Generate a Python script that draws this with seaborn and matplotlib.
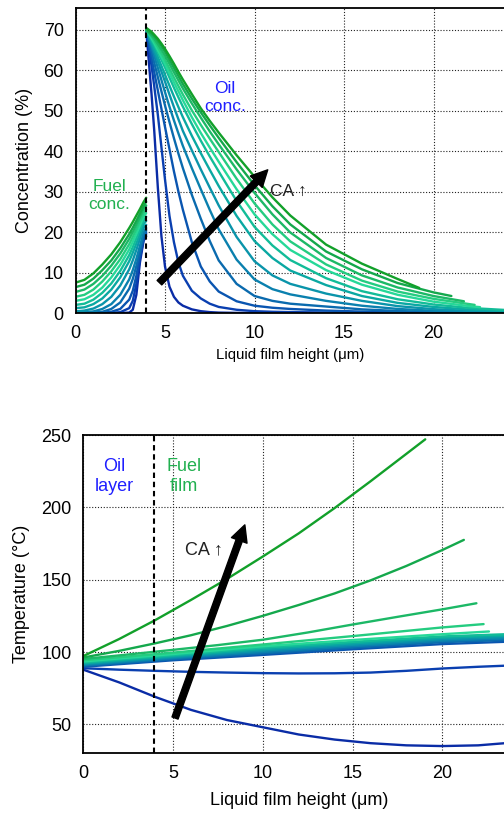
import matplotlib
matplotlib.use('Agg')
import matplotlib.pyplot as plt
import numpy as np
import pandas as pd
import seaborn as sns

# ---------------- data ----------------
curve_ids = [f'c{k}' for k in range(13)]
palette = ['#0a2ca6', '#0a3fb0', '#0a55b0', '#0a6aae', '#0a80ae', '#0a94aa',
           '#0aa8a2', '#12bc98', '#26d898', '#24cc80', '#1cb866', '#14a84c', '#12a02a']

# Top panel: fuel concentration (left of interface)
fuel_x = [0, 0.5, 1, 1.5, 2, 2.5, 3, 3.2, 3.4, 3.6, 3.8, 3.95]
fuel_conc = [
    [0, 0, 0, 0, 0, 0, 0.1, 0.8, 4.5, 12.5, 17.8, 19.0],
    [0, 0, 0, 0, 0.02, 0.2, 1.2, 3.0, 7.2, 13.5, 18.0, 19.6],
    [0, 0, 0, 0.05, 0.3, 1.0, 3.3, 5.5, 9.2, 14.3, 18.4, 20.0],
    [0, 0, 0.1, 0.3, 1.0, 2.6, 6.0, 8.4, 11.6, 15.3, 19.0, 20.5],
    [0.1, 0.2, 0.4, 1.0, 2.2, 4.5, 8.3, 10.6, 13.4, 16.6, 19.8, 21.0],
    [0.4, 0.6, 1.1, 2.2, 4.0, 6.8, 10.8, 13.0, 15.6, 18.4, 21.0, 21.8],
    [1.2, 1.4, 2.2, 3.6, 5.8, 8.8, 12.8, 14.9, 17.2, 19.6, 21.9, 22.8],
    [2.0, 2.3, 3.3, 5.0, 7.3, 10.4, 14.3, 16.3, 18.5, 20.7, 22.8, 23.8],
    [3.0, 3.4, 4.5, 6.3, 8.8, 11.9, 15.7, 17.6, 19.6, 21.7, 23.7, 24.7],
    [4.0, 4.5, 5.8, 7.8, 10.3, 13.3, 17.0, 18.8, 20.7, 22.7, 24.6, 25.6],
    [5.2, 5.8, 7.2, 9.2, 11.7, 14.7, 18.3, 20.0, 21.8, 23.7, 25.6, 26.6],
    [6.4, 7.0, 8.5, 10.6, 13.0, 16.0, 19.5, 21.1, 22.8, 24.6, 26.4, 27.5],
    [7.5, 8.2, 9.8, 12.0, 14.5, 17.5, 21.0, 22.5, 24.1, 25.7, 27.4, 28.5],
]

# Top panel: oil concentration (right of interface)
oil_x = [3.95, 4.1, 4.25, 4.4, 4.6, 4.8, 5, 5.25, 5.5, 5.75, 6, 6.5, 7, 7.5, 8,
         9, 10, 11, 12, 14, 16, 18, 20, 22, 24]
oil_conc = [
    [70, 62, 54, 45, 31, 19, 11.5, 6.5, 4.0, 2.6, 1.8, 0.9, 0.45, 0.22, 0.1, 0.03, 0, 0, 0, 0, 0, 0, 0, 0, 0],
    [70, 65.5, 61, 56, 49, 41, 33, 24, 17.5, 12.5, 9.2, 5.5, 3.6, 2.3, 1.5, 0.8, 0.45, 0.3, 0.22, 0.12, 0.06, 0.03, 0, 0, 0],
    [70, 66.5, 63, 59.5, 55, 50.5, 46, 40.5, 35, 30, 25.5, 17.5, 11.5, 7.8, 5.3, 2.9, 1.8, 1.3, 1.0, 0.6, 0.35, 0.2, 0.1, 0.05, 0],
    [70, 67.3, 64.6, 61.9, 58.3, 54.8, 51.3, 47.2, 43.2, 39.4, 35.8, 29.2, 23.3, 17.8, 13.0, 7.2, 4.2, 3.0, 2.3, 1.6, 0.9, 0.5, 0.25, 0.12, 0.06],
    [70, 67.9, 65.8, 63.6, 60.6, 57.6, 54.6, 51, 47.6, 44.4, 41.3, 35.8, 30.6, 25.5, 20.7, 13.2, 8.3, 5.9, 4.6, 3.0, 1.8, 1.0, 0.55, 0.3, 0.15],
    [70, 68.2, 66.4, 64.6, 62.2, 59.7, 57.2, 54, 50.9, 47.9, 45, 40.2, 35.5, 31, 26.6, 18.8, 12.8, 9.3, 7.2, 4.8, 3.0, 1.7, 0.95, 0.5, 0.3],
    [70, 68.5, 67, 65.4, 63.3, 61.1, 58.9, 56.2, 53.5, 50.9, 48.4, 43.8, 39.5, 35.4, 31.4, 24, 17.8, 13.6, 10.5, 6.9, 4.2, 2.5, 1.5, 0.85, 0.5],
    [70, 68.8, 67.5, 66.2, 64.4, 62.6, 60.7, 58.2, 55.7, 53.3, 51, 46.7, 42.6, 38.7, 35, 27.7, 21.3, 16.7, 13.1, 8.6, 5.4, 3.4, 2.1, 1.25, 0.75],
    [70, 69, 67.9, 66.7, 65, 63.3, 61.6, 59.3, 57, 54.8, 52.6, 48.4, 44.5, 40.9, 37.4, 30.6, 24.4, 19.5, 15.6, 10.6, 7.0, 4.5, 2.8, 1.7],
    [70, 69.2, 68.3, 67.3, 65.8, 64.2, 62.6, 60.4, 58.2, 56.1, 54, 50.1, 46.5, 43.1, 39.8, 33.2, 27.1, 21.9, 17.7, 12.0, 8.0, 5.3, 3.5, 2.2],
    [70, 69.3, 68.6, 67.8, 66.5, 65.1, 63.6, 61.6, 59.5, 57.5, 55.5, 51.8, 48.3, 44.9, 41.7, 35.5, 29.7, 24.4, 19.9, 13.6, 9.3, 6.3, 4.2],
    [70, 69.6, 69.1, 68.4, 67.3, 66, 64.6, 62.6, 60.6, 58.6, 56.6, 53, 49.6, 46.4, 43.3, 37.3, 31.6, 26.4, 21.9, 15.2, 10.8, 7.4, 5.1],
    [70.5, 70, 69.5, 68.8, 67.8, 66.6, 65.3, 63.5, 61.6, 59.6, 57.7, 54.1, 50.6, 47.5, 44.6, 39, 33.7, 28.6, 24.1, 16.9, 12.2, 8.4],
]
oil_end_x = [None] * 8 + [22.6, 22.3, 21.7, 21.0, 19.2]
oil_end_conc = [None] * 8 + [1.45, 2.0, 2.9, 4.2, 6.2]

# Bottom panel: temperature profiles
temp_x = [
    [0, 2, 4, 6, 8, 10, 12, 14, 16, 18, 20, 22, 24],
    [0, 2, 4, 6, 8, 10, 12, 14, 16, 18, 20, 22, 24],
    [0, 5, 10, 15, 20, 24],
    [0, 5, 10, 15, 20, 24],
    [0, 5, 10, 15, 20, 24],
    [0, 5, 10, 15, 20, 24],
    [0, 5, 10, 15, 20, 24],
    [0, 5, 10, 15, 20, 24],
    [0, 5, 10, 15, 20, 22.6],
    [0, 5, 10, 15, 20, 22.3],
    [0, 2.5, 5, 7.5, 10, 12.5, 15, 17.5, 20, 21.9],
    [0, 2, 4, 6, 8, 10, 12, 14, 16, 18, 20, 21.2],
    [0, 2, 4, 6, 8, 10, 12, 14, 16, 18, 19.05],
]
temp_c = [
    [87.8, 79, 69, 60, 53, 48, 43, 39.5, 37, 35.5, 35, 35.5, 37.5],
    [88.8, 87.8, 87, 86.3, 85.8, 85.4, 85.2, 85.3, 85.8, 87.0, 88.6, 89.8, 90.8],
    [89.8, 94.3, 98, 101.9, 105.5, 107.3],
    [90.4, 95.0, 99, 103, 106.8, 108.5],
    [91.0, 95.7, 100, 104, 107.8, 109.6],
    [91.6, 96.4, 101, 105, 108.8, 110.5],
    [92.2, 97.1, 102, 106, 109.8, 111.5],
    [92.8, 97.8, 103, 107, 110.8, 112.5],
    [93.5, 98.6, 104, 108.3, 112.3, 114.2],
    [94.3, 99.6, 105.2, 111, 117, 119.3],
    [95.2, 98.3, 101.5, 104.8, 108.5, 113.5, 119, 124.3, 129.5, 133.7],
    [96.2, 100.8, 106, 111.6, 118, 125, 132.5, 140.5, 149.5, 159.5, 170.5, 177.5],
    [97.2, 109, 122, 136, 150.5, 166, 182, 199.5, 218, 237, 247],
]

interface_x = 3.95
oil_blue = '#1f1fff'
fuel_green = '#22b050'

# ---------------- long tables ----------------
def long_table(xs_list, ys_list):
    rows = []
    for cid, xs, ys in zip(curve_ids, xs_list, ys_list):
        for x, y in zip(xs, ys):
            rows.append({'curve': cid, 'x': x, 'y': y})
    return pd.DataFrame(rows)

fuel_df = long_table([fuel_x] * 13, fuel_conc)
oil_xs, oil_ys = [], []
for vals, ex, ec in zip(oil_conc, oil_end_x, oil_end_conc):
    xs = list(oil_x[:len(vals)])
    ys = list(vals)
    if ex is not None:
        xs.append(ex)
        ys.append(ec)
    oil_xs.append(xs)
    oil_ys.append(ys)
oil_df = long_table(oil_xs, oil_ys)
temp_df = long_table(temp_x, temp_c)

# ---------------- style ----------------
sns.set_theme(style='white')
plt.rcParams['font.family'] = ['Liberation Sans', 'DejaVu Sans']
plt.rcParams['axes.edgecolor'] = 'black'
plt.rcParams['axes.linewidth'] = 1.3
plt.rcParams['text.color'] = 'black'
plt.rcParams['axes.labelcolor'] = 'black'
plt.rcParams['xtick.color'] = 'black'
plt.rcParams['ytick.color'] = 'black'

FS = 13
fig = plt.figure(figsize=(5.04, 8.14), dpi=100)
W, H = 504.0, 814.0
ax1 = fig.add_axes([75.5 / W, (H - 313) / H, 24 * 17.9 / W, 305 / H])
ax2 = fig.add_axes([83.3 / W, (H - 753.3) / H, 24 * 17.95 / W, 318.3 / H])

line_kw = dict(x='x', y='y', hue='curve', hue_order=curve_ids, palette=palette,
               estimator=None, sort=False, legend=False, linewidth=1.7)
sns.lineplot(data=fuel_df, ax=ax1, **line_kw)
sns.lineplot(data=oil_df, ax=ax1, **line_kw)
sns.lineplot(data=temp_df, ax=ax2, **line_kw)

grid_kw = dict(color='#222222', linestyle=(0, (1, 1.6)), linewidth=0.8)
arrow_kw = dict(arrowstyle='simple,head_length=0.85,head_width=0.85,tail_width=0.33',
                color='black', mutation_scale=14, shrinkA=0, shrinkB=0)

for ax in (ax1, ax2):
    ax.axvline(interface_x, color='black', linestyle=(0, (2.6, 1.8)), linewidth=1.5, zorder=6)
    ax.set_xlim(0, 24)
    ax.set_xticks([0, 5, 10, 15, 20])
    ax.grid(True, **grid_kw)
    ax.set_axisbelow(True)
    ax.tick_params(length=0, labelsize=FS, pad=8.5)
    for s in ax.spines.values():
        s.set_color('black')
        s.set_linewidth(1.3)

ax1.set_ylim(0, 75.4)
ax1.set_yticks([0, 10, 20, 30, 40, 50, 60, 70])
ax1.set_xlabel('Liquid film height (μm)', fontsize=10.8)
ax1.set_ylabel('Concentration (%)', fontsize=FS)
ax1.xaxis.set_label_coords(0.5, -0.115)
ax1.yaxis.set_label_coords(-0.098, 0.5)

ax2.set_ylim(30, 250)
ax2.set_yticks([50, 100, 150, 200, 250])
ax2.set_xlabel('Liquid film height (μm)', fontsize=FS)
ax2.set_ylabel('Temperature (°C)', fontsize=FS)
ax2.xaxis.set_label_coords(0.5, -0.123)
ax2.yaxis.set_label_coords(-0.123, 0.5)

# annotations, top
ax1.text(1.9, 29.0, 'Fuel\nconc.', color=fuel_green, ha='center', va='center', fontsize=FS - 0.5)
ax1.text(8.36, 53.3, 'Oil\nconc.', color=oil_blue, ha='center', va='center', fontsize=FS - 0.5)
ax1.text(10.85, 30.0, 'CA ↑', color='#222222', ha='left', va='center', fontsize=FS - 0.5)
ax1.annotate('', xy=(10.74, 35.4), xytext=(4.69, 7.5), arrowprops=arrow_kw, zorder=8)

# annotations, bottom
ax2.text(1.75, 221.5, 'Oil\nlayer', color=oil_blue, ha='center', va='center', fontsize=FS)
ax2.text(5.6, 221.5, 'Fuel\nfilm', color=fuel_green, ha='center', va='center', fontsize=FS)
ax2.text(5.67, 170.6, 'CA ↑', color='#222222', ha='left', va='center', fontsize=FS)
ax2.annotate('', xy=(9.0, 187.9), xytext=(5.11, 54.4), arrowprops=arrow_kw, zorder=8)

fig.savefig('out.png', dpi=100)
